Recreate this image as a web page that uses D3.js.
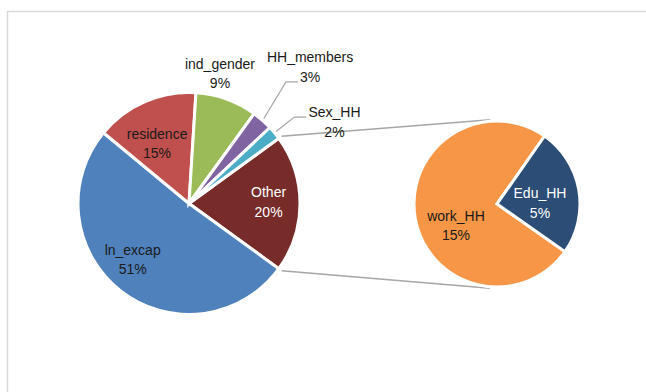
<!DOCTYPE html>
<html>
<head>
<meta charset="utf-8">
<script src="https://cdn.jsdelivr.net/npm/d3@7/dist/d3.min.js"></script>
<style>
  html, body { margin: 0; padding: 0; background: #fff; }
  svg { display: block; }
  text { font-family: "Liberation Sans", Arial, sans-serif; font-size: 14px; }
</style>
</head>
<body>
<svg id="chart" width="646" height="392"></svg>
<script>
// ---- data ----
const mainCategories = ["ln_excap", "residence", "ind_gender", "HH_members", "Sex_HH"];
const mainValues = [51, 15, 9, 3, 2];
const splitCategories = ["work_HH", "Edu_HH"];
const splitValues = [15, 5];
const otherName = "Other";

// ---- styling ----
const colors = {
  ln_excap: "#4f81bd",
  residence: "#c0504d",
  ind_gender: "#9bbb59",
  HH_members: "#8064a2",
  Sex_HH: "#4bacc6",
  Other: "#772c2a",
  work_HH: "#f79646",
  Edu_HH: "#2c4d75"
};
const whiteText = new Set(["Other", "Edu_HH"]);

// ---- layout ----
const mainPie = { cx: 189, cy: 203.5, r: 111 };
const splitPie = { cx: 497, cy: 204, r: 83 };
const splitStartDeg = 125;
const lineGap = 19.5;
// label block placement: radius from pie centre, angular nudge (deg) from slice middle
const labelLayout = {
  ln_excap:   { r: 79.4,  da: 7.4 },
  residence:  { r: 68,    da: -4.6 },
  ind_gender: { r: 133.6, da: -6.4 },
  HH_members: { r: 182.4, da: 0.2,  leader: 1 },
  Sex_HH:     { r: 166.8, da: 10.3, leader: 0 },
  Other:      { r: 79.6,  da: -1.1 },
  work_HH:    { r: 46.3,  da: -17.7 },
  Edu_HH:     { r: 43,    da: 8.7 }
};

const rad = d => d * Math.PI / 180;
const polar = (c, a, r) => [c.cx + r * Math.sin(a), c.cy - r * Math.cos(a)];

const svg = d3.select("#chart");

// chart frame
svg.append("rect")
  .attr("x", 7.5).attr("y", 11.5)
  .attr("width", 700).attr("height", 420)
  .attr("fill", "none")
  .attr("stroke", "#d9d9d9")
  .attr("stroke-width", 1.5);

const otherValue = d3.sum(splitValues);
const mainData = [{ name: otherName, value: otherValue }]
  .concat(mainCategories.map((c, i) => ({ name: c, value: mainValues[i] })));
const total = d3.sum(mainData, d => d.value);
const splitData = splitCategories.map((c, i) => ({ name: c, value: splitValues[i] }));

// "Other" slice is centred at 3 o'clock, facing the secondary pie
const otherSpan = otherValue / total * 2 * Math.PI;
const mainStart = Math.PI / 2 - otherSpan / 2;

const pieMain = d3.pie().sort(null).value(d => d.value)
  .startAngle(mainStart).endAngle(mainStart + 2 * Math.PI);
const pieSplit = d3.pie().sort(null).value(d => d.value)
  .startAngle(rad(splitStartDeg)).endAngle(rad(splitStartDeg) + 2 * Math.PI);

const mainArcs = pieMain(mainData);
const splitArcs = pieSplit(splitData);

const arcMain = d3.arc().innerRadius(0).outerRadius(mainPie.r);
const arcSplit = d3.arc().innerRadius(0).outerRadius(splitPie.r);

// connector lines: tangents from the edges of "Other" to the secondary pie
function tangentPoint(p, c, R, upper) {
  const dx = p[0] - c.cx, dy = p[1] - c.cy;
  const d = Math.hypot(dx, dy);
  const phi = Math.atan2(dy, dx);
  const beta = Math.acos(R / d);
  const t1 = [c.cx + R * Math.cos(phi + beta), c.cy + R * Math.sin(phi + beta)];
  const t2 = [c.cx + R * Math.cos(phi - beta), c.cy + R * Math.sin(phi - beta)];
  return upper ? (t1[1] < t2[1] ? t1 : t2) : (t1[1] > t2[1] ? t1 : t2);
}
const otherArc = mainArcs[0];
const pTop = polar(mainPie, otherArc.startAngle, mainPie.r + 3.5);
const pBot = polar(mainPie, otherArc.endAngle, mainPie.r + 3.5);
const tTop = tangentPoint(pTop, splitPie, splitPie.r + 1.5, true);
const tBot = tangentPoint(pBot, splitPie, splitPie.r + 1.5, false);
svg.append("g")
  .attr("stroke", "#a6a6a6").attr("stroke-width", 1.5).attr("fill", "none")
  .selectAll("line").data([[pTop, tTop], [pBot, tBot]]).join("line")
  .attr("x1", d => d[0][0]).attr("y1", d => d[0][1])
  .attr("x2", d => d[1][0]).attr("y2", d => d[1][1]);

// slices
function drawPie(center, arcs, arcGen) {
  svg.append("g")
    .attr("transform", `translate(${center.cx},${center.cy})`)
    .selectAll("path").data(arcs).join("path")
    .attr("d", arcGen)
    .attr("fill", d => colors[d.data.name])
    .attr("stroke", "#fff")
    .attr("stroke-width", 3)
    .attr("stroke-linejoin", "miter");
}
drawPie(mainPie, mainArcs, arcMain);
drawPie(splitPie, splitArcs, arcSplit);

// labels
const fmt = v => Math.round(v / total * 100) + "%";
const labelG = svg.append("g").attr("text-anchor", "middle");
const leaderG = svg.append("g").attr("stroke", "#a6a6a6").attr("stroke-width", 1.2).attr("fill", "none");

function drawLabels(center, arcs) {
  arcs.forEach(a => {
    const name = a.data.name;
    const lay = labelLayout[name];
    const mid = (a.startAngle + a.endAngle) / 2;
    const [bx, by] = polar(center, mid + rad(lay.da), lay.r);
    const base1 = by - lineGap / 2 + 5;
    const t = labelG.append("text")
      .attr("fill", whiteText.has(name) ? "#ffffff" : "#1a1a1a");
    const lines = [name, fmt(a.data.value)];
    const spans = lines.map((s, i) => t.append("tspan")
      .attr("x", bx).attr("y", base1 + i * lineGap).text(s));
    if (lay.leader !== undefined) {
      const w = spans[lay.leader].node().getComputedTextLength();
      const end = [bx - w / 2 - 2, base1 + lay.leader * lineGap];
      const elbow = [end[0] - 12, end[1]];
      const start = polar(center, mid, center.r + 2);
      leaderG.append("polyline")
        .attr("points", [start, elbow, end].map(p => p.join(",")).join(" "));
    }
  });
}
drawLabels(mainPie, mainArcs);
drawLabels(splitPie, splitArcs);
</script>
</body>
</html>
